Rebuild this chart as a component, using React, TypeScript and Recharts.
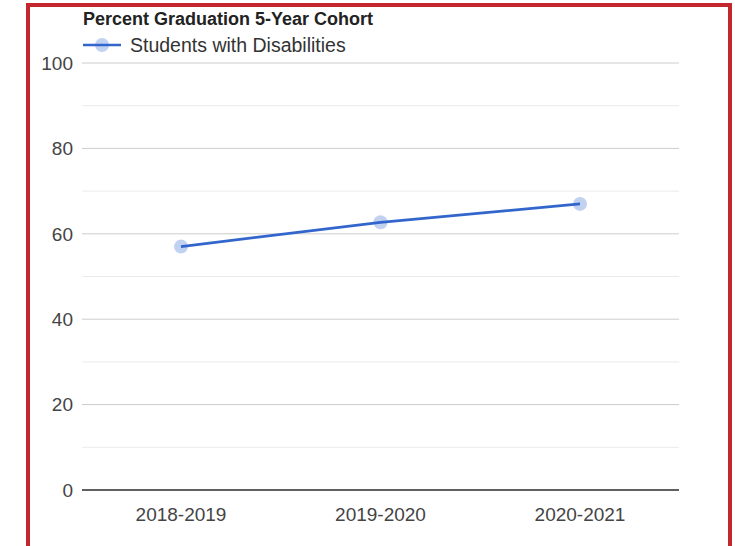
import { LineChart, Line, XAxis, YAxis, CartesianGrid, ReferenceLine } from "recharts";

const years = ["2018-2019", "2019-2020", "2020-2021"];
const disabilities = [57.0, 62.7, 67.0];
const majorTicks = [0, 20, 40, 60, 80, 100];
const minorTicks = [10, 30, 50, 70, 90];

const data = years.map((year, i) => ({ year, value: disabilities[i] }));

const FONT = "'Liberation Sans', Arial, sans-serif";

const App = () => {
  return (
    <div style={{ position: "absolute", left: 0, top: 0, width: 735, height: 546, background: "#fff", overflow: "hidden", fontFamily: FONT }}>
      <div
        style={{
          position: "absolute",
          left: 26,
          top: 3,
          width: 698,
          height: 560,
          border: "4px solid #c4262e",
        }}
      />
      <div style={{ position: "absolute", left: 83, top: 8, fontSize: 18, lineHeight: "22px", fontWeight: "bold", color: "#222" }}>
        Percent Graduation 5-Year Cohort
      </div>
      <div style={{ position: "absolute", left: 83, top: 34, height: 22, display: "flex", alignItems: "center", fontSize: 19.5, color: "#333" }}>
        <svg width={40} height={20}>
          <line x1={0} y1={10} x2={38} y2={10} stroke="#3366cc" strokeWidth={2.5} />
          <circle cx={19} cy={10} r={7} fill="#3366cc" fillOpacity={0.3} />
        </svg>
        <span style={{ marginLeft: 7 }}>Students with Disabilities</span>
      </div>
      <LineChart
        width={735}
        height={546}
        data={data}
        margin={{ top: 63, right: 56, bottom: 26, left: 0 }}
        style={{ position: "absolute", left: 0, top: 0 }}
      >
        <CartesianGrid vertical={false} stroke="#cccccc" />
        {minorTicks.map((v) => (
          <ReferenceLine key={v} y={v} stroke="#ebebeb" />
        ))}
        <XAxis
          dataKey="year"
          padding={{ left: 99, right: 99 }}
          tickLine={false}
          tickSize={0}
          tickMargin={18}
          axisLine={{ stroke: "#333", strokeWidth: 1.5 }}
          tick={{ fill: "#444", fontSize: 19, fontFamily: FONT }}
        />
        <YAxis
          width={82}
          domain={[0, 100]}
          ticks={majorTicks}
          axisLine={false}
          tickLine={false}
          tickSize={0}
          tickMargin={9}
          tick={{ fill: "#444", fontSize: 19, fontFamily: FONT }}
        />
        <Line
          type="linear"
          dataKey="value"
          stroke="#3366cc"
          strokeWidth={2.8}
          dot={{ r: 7, fill: "#3366cc", fillOpacity: 0.3, stroke: "none" }}
          activeDot={false}
          isAnimationActive={false}
        />
      </LineChart>
    </div>
  );
};

export default App;
